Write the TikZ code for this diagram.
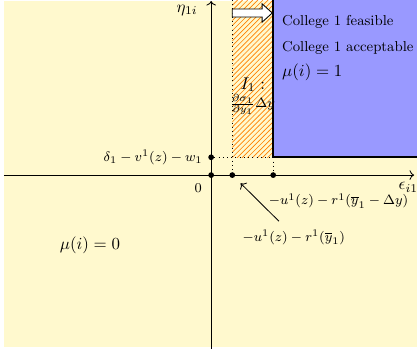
\documentclass[tikz,border=0pt]{standalone}
\usepackage{amsmath}
\usepackage{tikz}
\usetikzlibrary{positioning, arrows.meta, patterns, calc}
\definecolor{Cbg}{RGB}{255,249,206}
\definecolor{Cacc}{RGB}{153,153,255}
\newcommand{\lblsize}{\fontsize{8.5}{10}\selectfont}
\tikzset{
  dot/.style={circle, fill=black, inner sep=0pt, minimum size=3.4pt},
  lbl/.style={font=\lblsize, inner sep=1pt},
  txt/.style={font=\lblsize, anchor=west, inner sep=0pt},
  ax/.style={->, line width=0.5pt},
  gd/.style={dotted, line width=0.5pt},
  ptr/.style={->, line width=0.5pt, shorten >=5pt}
}

\begin{document}
\begin{tikzpicture}

% ─────────────────────────────────────────────────────────────────────────────
%  Background
% ─────────────────────────────────────────────────────────────────────────────
\useasboundingbox (-4.39,-3.62) rectangle (4.28,3.64);
\fill[Cbg] (-4.31,-3.58) rectangle (4.28,3.62);

% ─────────────────────────────────────────────────────────────────────────────
%  Regions
% ─────────────────────────────────────────────────────────────────────────────
\fill[Cacc] (1.29,0.37) rectangle (4.28,3.64);
\fill[pattern=north east lines, pattern color=orange] (0.44,0.37) rectangle (1.29,3.64);

% points on the axes
\node[dot] (o) at (0,0)    {};
\node[dot] (a) at (0.44,0) {};
\node[dot] (b) at (1.29,0) {};
\node[dot] (d) at (0,0.37) {};
\coordinate (c) at (1.29,0.37);
\coordinate (top) at (0.44,3.64);

% guide lines
\draw[gd] (top) -- (a);
\draw[gd] (d) -- (c);
\draw[gd] (c) -- (b);

% border of the acceptable region
\draw[line width=1.1pt] (4.28,0.37) -- (c) -- (1.29,3.64);

% shift arrow
\draw[fill=white, line width=0.5pt]
  (0.44,3.287) -- (1.06,3.287) -- (1.06,3.18) -- (1.27,3.37)
  -- (1.06,3.56) -- (1.06,3.453) -- (0.44,3.453) -- cycle;

% ─────────────────────────────────────────────────────────────────────────────
%  Axes
% ─────────────────────────────────────────────────────────────────────────────
\coordinate (xl) at (-4.31,0);
\coordinate (xr) at (4.22,0);
\coordinate (yb) at (0,-3.62);
\coordinate (yt) at (0,3.62);
\draw[ax] (xl) -- (xr);
\draw[ax] (yb) -- (yt);

\node[inner sep=1pt] (eta) at (-0.5,3.43) {$\eta_{1i}$};
\node[inner sep=1pt] (eps) at (4.1,-0.25) {$\epsilon_{i1}$};
\node[lbl] (zero) at (-0.27,-0.27) {$0$};
\node[lbl, left=2pt of d] (dlab) {$\delta_1 - v^1(z) - w_1$};

% ─────────────────────────────────────────────────────────────────────────────
%  Labels
% ─────────────────────────────────────────────────────────────────────────────
\node[lbl] (rup)  at (2.65,-0.54) {$-u^1(z) - r^1(\overline{y}_1 - \Delta y)$};
\node[lbl] (rlow) at (1.72,-1.29) {$-u^1(z) - r^1(\overline{y}_1)$};
\coordinate (tail) at (1.41,-0.96);
\draw[ptr] (tail) -- (a);

\node (mu0) at (-2.52,-1.46) {$\mu(i) = 0$};

\node[txt] (feas) at (1.47,3.18) {College 1 feasible};
\node[txt] (acc)  at (1.47,2.64) {College 1 acceptable};
\node[anchor=west, inner sep=0pt] (mu1) at (1.47,2.14) {$\mu(i) = 1$};

\node[inner sep=0pt] (I1) at (0.865,1.88) {$I_1:$};
\node[font=\lblsize, inner sep=0pt] (dI) at (0.86,1.47) {$\frac{\partial \sigma_1}{\partial y_1}\Delta y$};

\end{tikzpicture}
\end{document}
